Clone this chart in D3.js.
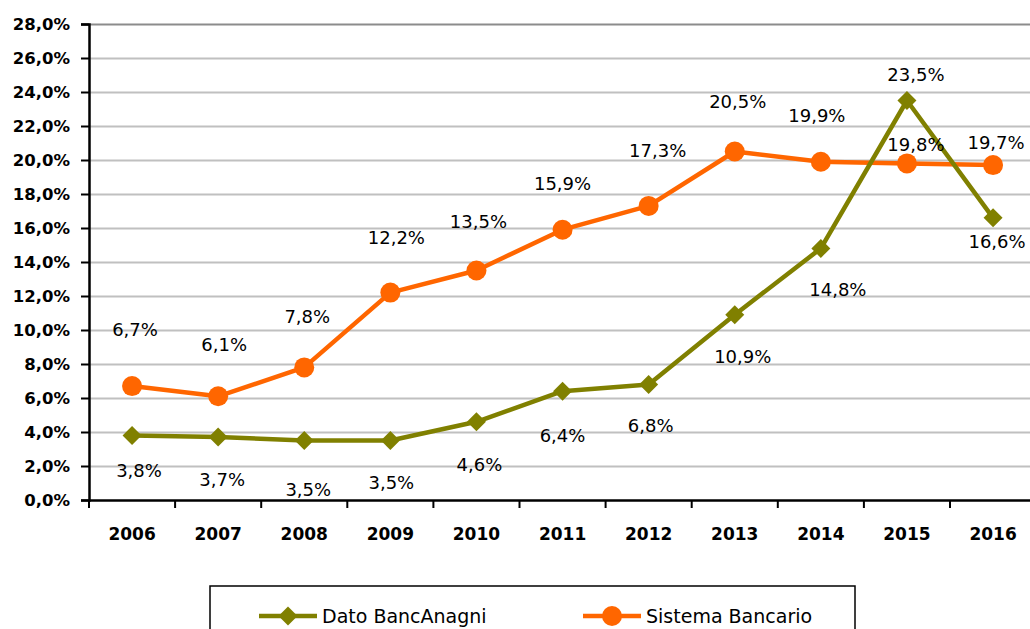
<!DOCTYPE html>
<html>
<head>
<meta charset="utf-8">
<script src="https://cdn.jsdelivr.net/npm/d3@7"></script>
<style>
  body { margin: 0; background: #fff; }
  svg { display: block; font-family: "DejaVu Sans", sans-serif; }
</style>
</head>
<body>
<svg id="chart" width="1030" height="629"></svg>
<script>
// DATA
const years = ["2006", "2007", "2008", "2009", "2010", "2011", "2012", "2013", "2014", "2015", "2016"];
const datoBancAnagni = [3.8, 3.7, 3.5, 3.5, 4.6, 6.4, 6.8, 10.9, 14.8, 23.5, 16.6];
const sistemaBancario = [6.7, 6.1, 7.8, 12.2, 13.5, 15.9, 17.3, 20.5, 19.9, 19.8, 19.7];
const yTicks = [0, 2, 4, 6, 8, 10, 12, 14, 16, 18, 20, 22, 24, 26, 28];
const seriesNames = ["Dato BancAnagni", "Sistema Bancario"];

// label nudges (label centre relative to its point), as placed in the original
const greenLabelShift = [[7, 35], [4, 42], [4, 49], [1, 42], [3, 43], [0, 44], [2, 41], [8, 42], [17, 41], [9, -26], [4, 24]];
const orangeLabelShift = [[3, -57], [6, -52], [3, -51], [6, -55], [2, -49], [0, -46], [9, -55], [3, -50], [-4, -46], [9, -19], [3, -23]];

const GREEN = "#808000";
const ORANGE = "#FF6600";
const FONT = "DejaVu Sans";

const pct = v => d3.format(".1f")(v).replace(".", ",") + "%";

const svg = d3.select("#chart");

const plotLeft = 89, plotTop = 24, plotBottom = 500;
const band = 86.1;

const x = d3.scaleBand()
  .domain(years)
  .range([plotLeft, plotLeft + band * years.length])
  .paddingInner(0)
  .paddingOuter(0);

const y = d3.scaleLinear().domain([0, 28]).range([plotBottom, plotTop]);

const cx = d => x(d) + x.bandwidth() / 2;

// GRIDLINES
svg.append("g")
  .attr("transform", `translate(${plotLeft},0)`)
  .call(d3.axisLeft(y).tickValues(yTicks.filter(t => t > 0)).tickSize(-(1030 - plotLeft)).tickFormat(""))
  .call(g => g.select(".domain").remove())
  .call(g => g.selectAll(".tick line")
    .attr("stroke", d => d === 28 ? "#8c8c8c" : "#c0c0c0")
    .attr("stroke-width", 2));

// Y AXIS
svg.append("g")
  .attr("transform", `translate(${plotLeft},0)`)
  .call(d3.axisLeft(y).tickValues(yTicks).tickSize(8).tickPadding(11).tickFormat(pct))
  .call(g => g.select(".domain").attr("stroke", "#000").attr("stroke-width", 2.5))
  .call(g => g.selectAll(".tick line").attr("stroke", "#000").attr("stroke-width", 2))
  .call(g => g.selectAll(".tick text")
    .attr("fill", "#000")
    .attr("font-family", FONT)
    .attr("font-weight", "bold")
    .attr("font-size", 16.5));

// X AXIS
svg.append("g")
  .attr("transform", `translate(0,${plotBottom})`)
  .call(d3.axisBottom(x).tickSize(0).tickPadding(28))
  .call(g => g.select(".domain").attr("stroke", "#000").attr("stroke-width", 2.5))
  .call(g => g.selectAll(".tick text")
    .attr("fill", "#000")
    .attr("font-family", FONT)
    .attr("font-weight", "bold")
    .attr("font-size", 17));

// x tick marks sit on the category boundaries
const bounds = years.map(d => x(d)).concat([x.range()[1]]);
svg.append("g")
  .selectAll("line")
  .data(bounds)
  .join("line")
  .attr("x1", d => d).attr("x2", d => d)
  .attr("y1", plotBottom).attr("y2", plotBottom + 8)
  .attr("stroke", "#000")
  .attr("stroke-width", 2);

// LINES
const line = d3.line()
  .x((d, i) => cx(years[i]))
  .y(d => y(d));

svg.append("path")
  .datum(sistemaBancario)
  .attr("fill", "none")
  .attr("stroke", ORANGE)
  .attr("stroke-width", 4.5)
  .attr("stroke-linejoin", "round")
  .attr("d", line);

svg.append("path")
  .datum(datoBancAnagni)
  .attr("fill", "none")
  .attr("stroke", GREEN)
  .attr("stroke-width", 4.5)
  .attr("stroke-linejoin", "round")
  .attr("d", line);

// MARKERS
const diamond = d3.symbol().type(d3.symbolDiamond2).size(230);

svg.append("g")
  .selectAll("circle")
  .data(sistemaBancario)
  .join("circle")
  .attr("cx", (d, i) => cx(years[i]))
  .attr("cy", d => y(d))
  .attr("r", 10)
  .attr("fill", ORANGE);

svg.append("g")
  .selectAll("path")
  .data(datoBancAnagni)
  .join("path")
  .attr("transform", (d, i) => `translate(${cx(years[i])},${y(d)})`)
  .attr("d", diamond)
  .attr("fill", GREEN);

// DATA LABELS
const addLabels = (values, shift) => {
  svg.append("g")
    .selectAll("text")
    .data(values)
    .join("text")
    .attr("x", (d, i) => cx(years[i]) + shift[i][0])
    .attr("y", (d, i) => y(d) + shift[i][1])
    .attr("text-anchor", "middle")
    .attr("dominant-baseline", "central")
    .attr("font-size", 18)
    .attr("fill", "#000")
    .text(d => pct(d));
};
addLabels(sistemaBancario, orangeLabelShift);
addLabels(datoBancAnagni, greenLabelShift);

// LEGEND
const legend = svg.append("g");
legend.append("rect")
  .attr("x", 210).attr("y", 586)
  .attr("width", 645).attr("height", 60)
  .attr("fill", "#fff")
  .attr("stroke", "#000")
  .attr("stroke-width", 1.5);

const legendItems = [
  { name: seriesNames[0], color: GREEN, x0: 259, marker: "diamond" },
  { name: seriesNames[1], color: ORANGE, x0: 583, marker: "circle" }
];

legendItems.forEach(it => {
  const g = legend.append("g").attr("transform", `translate(${it.x0},616)`);
  g.append("line")
    .attr("x1", 0).attr("x2", 58)
    .attr("stroke", it.color)
    .attr("stroke-width", 4.5);
  if (it.marker === "circle") {
    g.append("circle").attr("cx", 29).attr("r", 10).attr("fill", it.color);
  } else {
    g.append("path").attr("transform", "translate(29,0)").attr("d", diamond).attr("fill", it.color);
  }
  g.append("text")
    .attr("x", 63)
    .attr("dominant-baseline", "central")
    .attr("font-size", 19)
    .attr("fill", "#000")
    .text(it.name);
});
</script>
</body>
</html>
